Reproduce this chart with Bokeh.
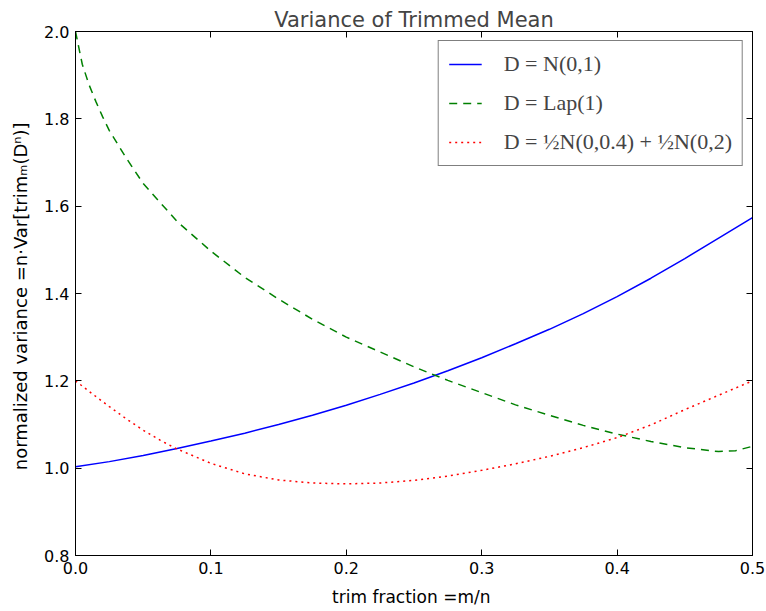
from bokeh.plotting import figure
from bokeh.models import LinearAxis, Range1d, Legend, LegendItem, FixedTicker
from bokeh.embed import file_html
from bokeh.resources import INLINE

# ---- data ----
frac_normal = [0.0, 0.025, 0.05, 0.075, 0.1, 0.125, 0.15, 0.175, 0.2, 0.225, 0.25,
               0.275, 0.3, 0.325, 0.35, 0.375, 0.4, 0.425, 0.45, 0.475, 0.5]
var_normal = [1.003, 1.015, 1.029, 1.045, 1.062, 1.080, 1.100, 1.121, 1.144, 1.169, 1.195,
              1.223, 1.253, 1.285, 1.318, 1.354, 1.393, 1.435, 1.480, 1.527, 1.574]

frac_laplace = [0.0, 0.005, 0.01, 0.015, 0.02, 0.025, 0.0375, 0.05, 0.075, 0.1, 0.125,
                0.15, 0.175, 0.2, 0.225, 0.25, 0.275, 0.3, 0.325, 0.35, 0.375, 0.4,
                0.425, 0.45, 0.475, 0.4875, 0.5]
var_laplace = [2.000, 1.925, 1.878, 1.840, 1.805, 1.773, 1.710, 1.652, 1.565, 1.497, 1.437,
               1.387, 1.341, 1.300, 1.266, 1.232, 1.201, 1.173, 1.145, 1.121, 1.098, 1.078,
               1.061, 1.047, 1.038, 1.040, 1.050]

frac_mix = [0.0, 0.0125, 0.025, 0.0375, 0.05, 0.0625, 0.075, 0.1, 0.125, 0.15, 0.175,
            0.2, 0.225, 0.25, 0.275, 0.3, 0.325, 0.35, 0.375, 0.4, 0.425, 0.45, 0.475, 0.5]
var_mix = [1.200, 1.170, 1.141, 1.113, 1.087, 1.064, 1.044, 1.011, 0.987, 0.973, 0.966,
           0.964, 0.966, 0.972, 0.982, 0.995, 1.010, 1.027, 1.047, 1.070, 1.099, 1.134,
           1.167, 1.200]

x_ticks = [0.0, 0.1, 0.2, 0.3, 0.4, 0.5]
y_ticks = [0.8, 1.0, 1.2, 1.4, 1.6, 1.8, 2.0]
x_tick_labels = {0.0: "0.0", 0.1: "0.1", 0.2: "0.2", 0.3: "0.3", 0.4: "0.4", 0.5: "0.5"}
y_tick_labels = {0.8: "0.8", 1.0: "1.0", 1.2: "1.2", 1.4: "1.4", 1.6: "1.6", 1.8: "1.8", 2.0: "2.0"}

labels = ["D = N(0,1)", "D = Lap(1)", "D = \u00bdN(0,0.4) + \u00bdN(0,2)"]

FONT = "DejaVu Sans"

p = figure(width=766, height=611, output_backend="svg", toolbar_location=None,
           x_range=Range1d(0, 0.5), y_range=Range1d(0.8, 2.0),
           min_border_left=75, min_border_right=14, min_border_top=31, min_border_bottom=56,
           title="Variance of Trimmed Mean")
p.title.text_font = FONT
p.title.text_font_size = "21px"
p.title.text_font_style = "normal"
p.title.align = "center"
p.title.standoff = 0
p.title.offset = 0

p.xgrid.grid_line_color = None
p.ygrid.grid_line_color = None
p.outline_line_color = "black"
p.outline_line_width = 1
p.background_fill_color = "white"
p.border_fill_color = "white"

def style_axis(ax, ticks, overrides, show_labels):
    ax.ticker = FixedTicker(ticks=ticks)
    ax.major_label_overrides = overrides
    ax.major_tick_in = 6
    ax.major_tick_out = 0
    ax.minor_tick_in = 0
    ax.minor_tick_out = 0
    ax.axis_line_color = "black"
    ax.major_tick_line_color = "black"
    ax.major_label_text_font = FONT
    if show_labels:
        ax.major_label_text_color = "black"
        ax.major_label_text_font_size = "16px"
        ax.major_label_standoff = 6
    else:
        ax.major_label_text_color = None
        ax.major_label_text_font_size = "0px"
        ax.major_label_standoff = 0

style_axis(p.xaxis[0], x_ticks, x_tick_labels, True)
style_axis(p.yaxis[0], y_ticks, y_tick_labels, True)

p.xaxis[0].axis_label = "trim fraction  =m/n"
p.yaxis[0].axis_label = "normalized variance  =n\u00b7Var[trim\u2098(D\u207f)]"
for ax in (p.xaxis[0], p.yaxis[0]):
    ax.axis_label_text_font = FONT
    ax.axis_label_text_font_style = "normal"
    ax.axis_label_text_color = "black"
p.xaxis[0].axis_label_text_font_size = "17px"
p.yaxis[0].axis_label_text_font_size = "18px"
p.xaxis[0].axis_label_standoff = 10
p.yaxis[0].axis_label_standoff = 10

top_axis = LinearAxis()
style_axis(top_axis, x_ticks, {}, False)
p.add_layout(top_axis, "above")
right_axis = LinearAxis()
style_axis(right_axis, y_ticks, {}, False)
p.add_layout(right_axis, "right")

r1 = p.line(frac_normal, var_normal, line_color="#0000ff", line_width=1.5)
r2 = p.line(frac_laplace, var_laplace, line_color="#008000", line_width=1.5, line_dash="8 6")
r3 = p.line(frac_mix, var_mix, line_color="#ff0000", line_width=1.5, line_dash="2 4")

legend = Legend(items=[LegendItem(label=labels[0], renderers=[r1]),
                       LegendItem(label=labels[1], renderers=[r2]),
                       LegendItem(label=labels[2], renderers=[r3])],
                location="top_right")
legend.label_text_font = "Liberation Serif"
legend.label_text_font_size = "22px"
legend.label_height = 20
legend.glyph_height = 20
legend.glyph_width = 33
legend.label_standoff = 22
legend.spacing = 13
legend.padding = 10
legend.margin = 9
legend.border_line_color = "black"
legend.border_line_width = 1
legend.background_fill_alpha = 1
p.add_layout(legend)

open("out.html", "w").write(file_html(p, INLINE))
